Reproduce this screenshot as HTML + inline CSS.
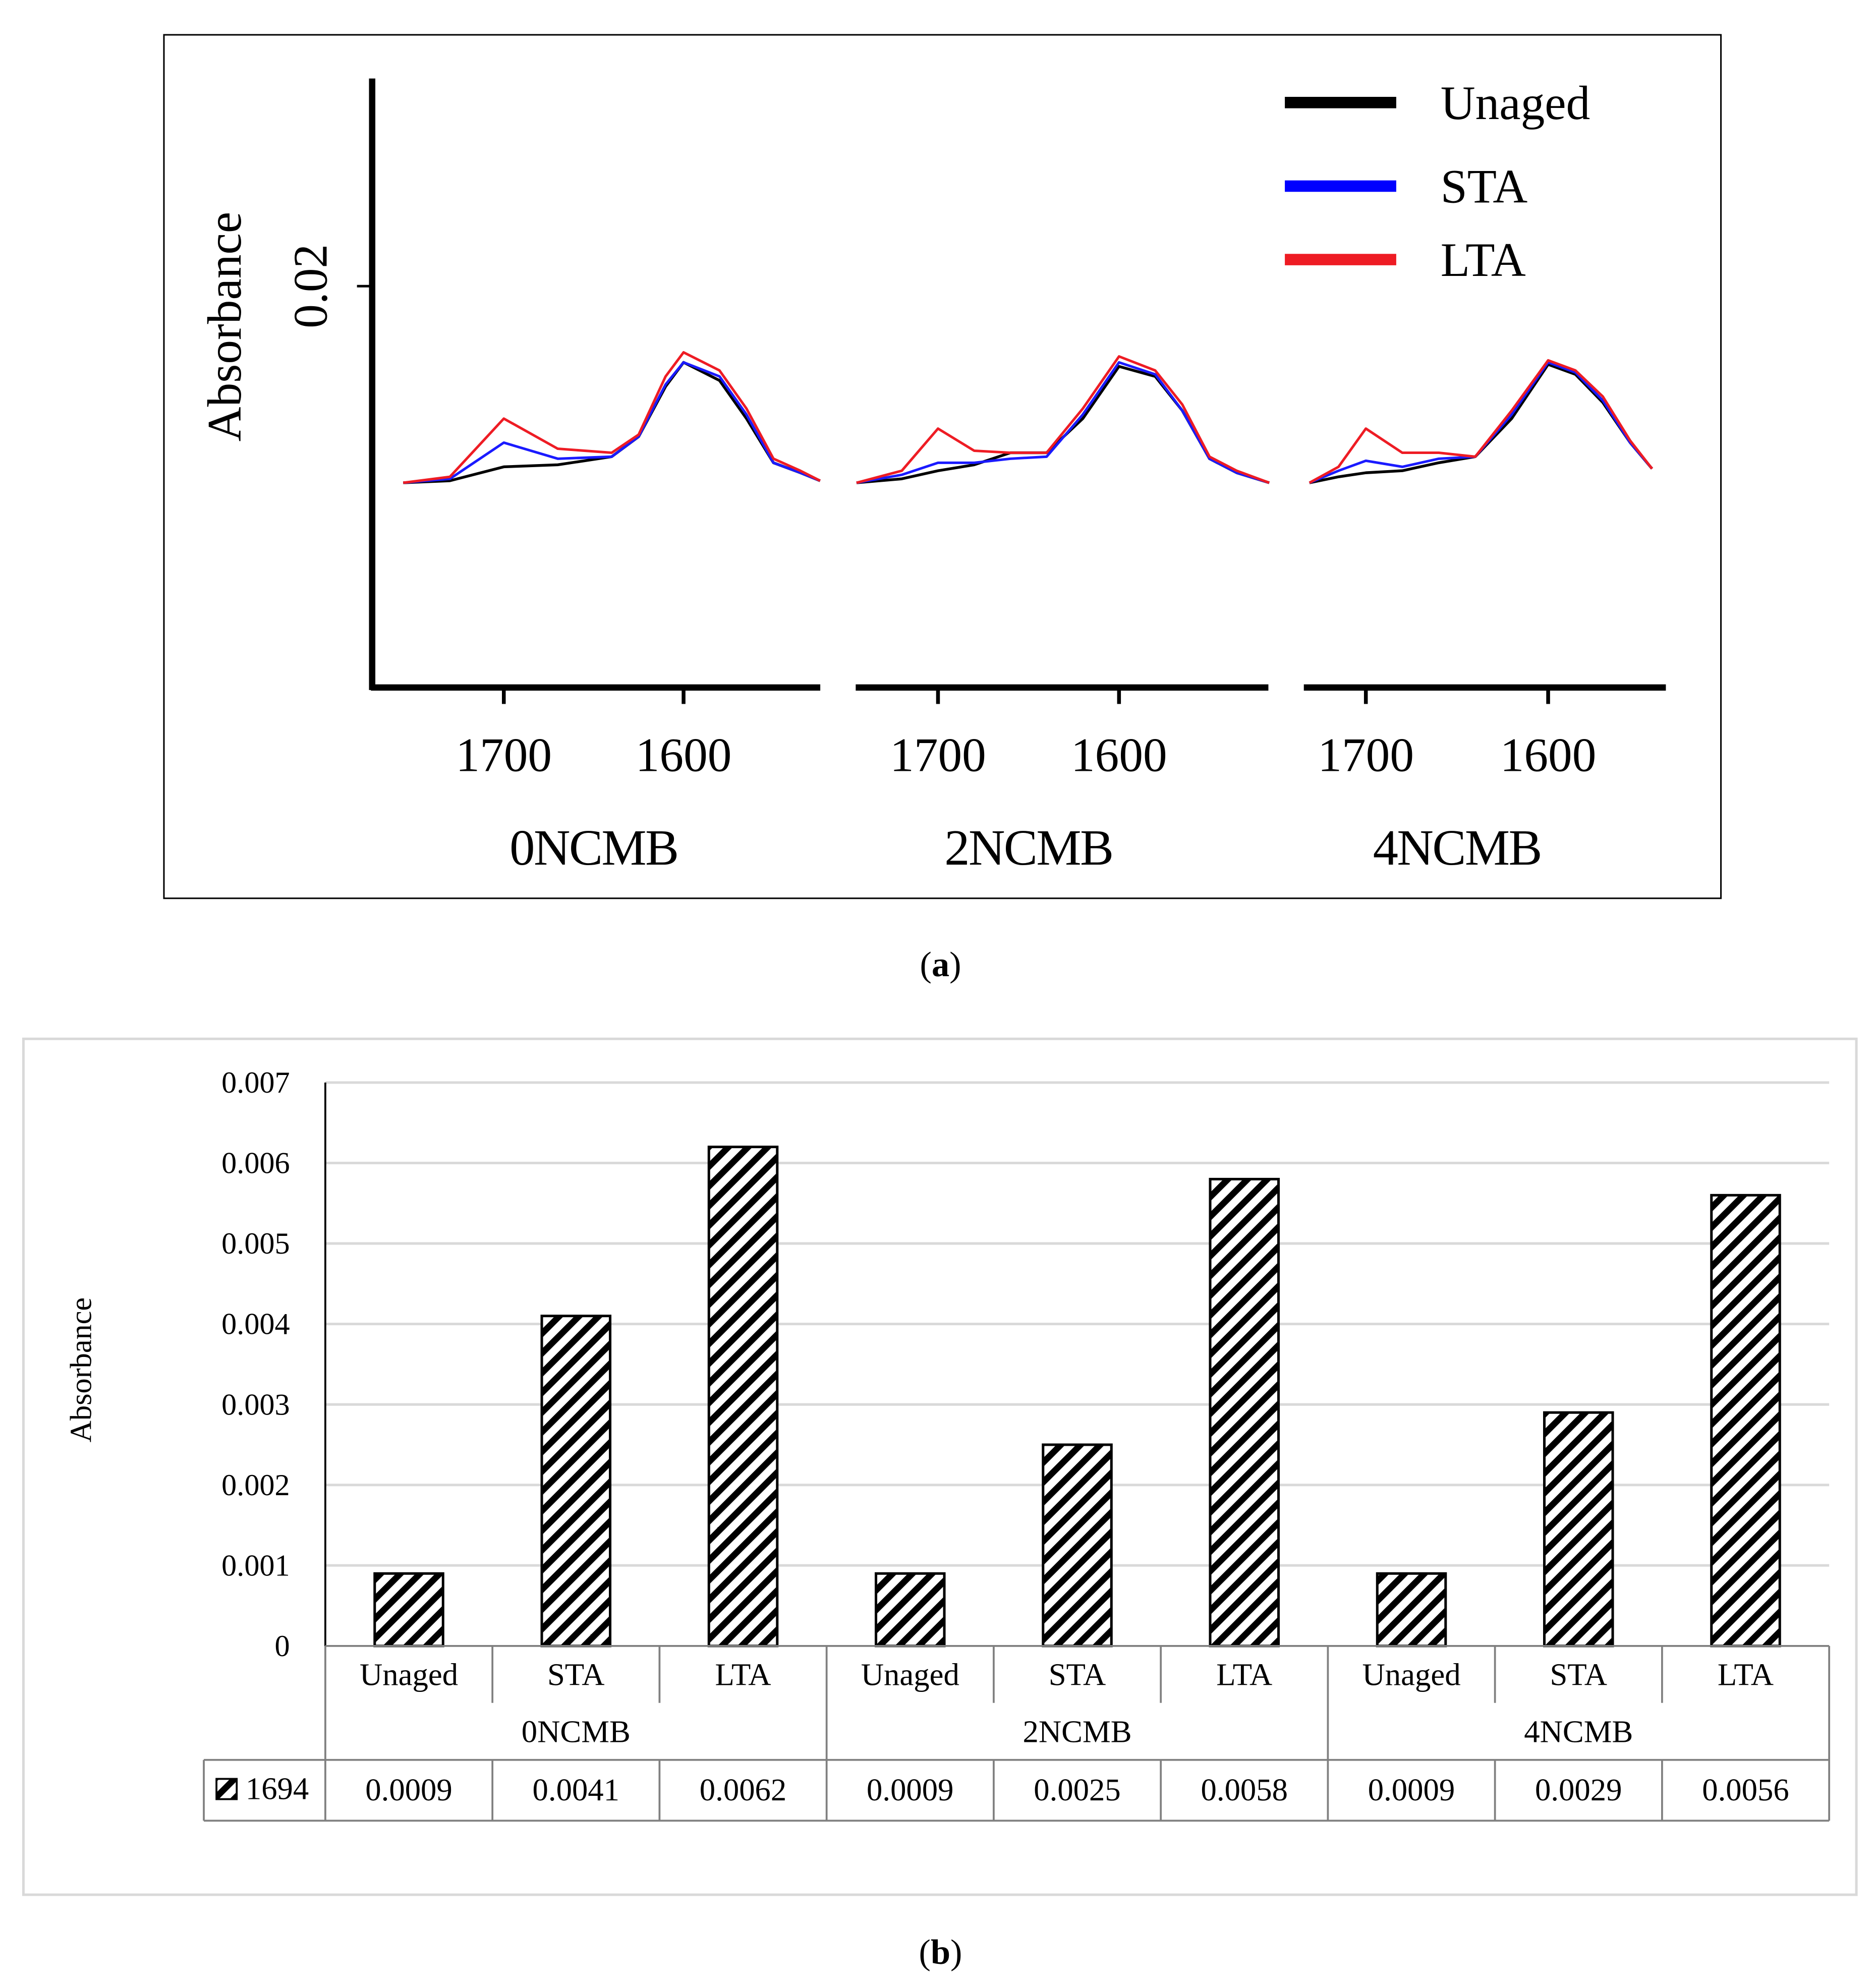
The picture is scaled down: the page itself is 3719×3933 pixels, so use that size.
<!DOCTYPE html>
<html><head><meta charset="utf-8"><style>html,body{margin:0;padding:0;background:#fff}svg{display:block}text{font-family:"Liberation Serif",serif}</style></head>
<body>
<svg id="fig" width="3719" height="3933" viewBox="0 0 1482 1567" preserveAspectRatio="none" xmlns="http://www.w3.org/2000/svg">
<defs><pattern id="hatch" patternUnits="userSpaceOnUse" width="11" height="11" patternTransform="rotate(45)"><rect width="11" height="11" fill="#fff"/><rect width="5" height="11" fill="#000"/></pattern></defs>
<rect x="0" y="0" width="1482" height="1567" fill="#fff"/>
<rect x="129.5" y="27.5" width="1230" height="682" fill="none" stroke="#000" stroke-width="1.2"/>
<g id="pa"></g>
<text x="743" y="771" font-size="28" text-anchor="middle">(<tspan font-weight="bold">a</tspan>)</text>
<rect x="18.5" y="820.5" width="1448" height="676" fill="none" stroke="#d9d9d9" stroke-width="2"/>
<g id="pb"></g>
<text x="743" y="1551" font-size="28" text-anchor="middle">(<tspan font-weight="bold">b</tspan>)</text>
</svg>
<script>
// ---------- Panel (a) data ----------
const panelNames = ["0NCMB","2NCMB","4NCMB"];
const seriesNames = ["Unaged","STA","LTA"];
const wn0 = [1756,1730,1700,1670,1640,1625,1610,1600,1580,1565,1550,1535,1524];
const unaged0 = [0.0102,0.0103,0.0110,0.0111,0.0115,0.0125,0.0150,0.0162,0.0153,0.0134,0.0112,0.0107,0.0103];
const sta0 = [0.0102,0.0104,0.0122,0.0114,0.0115,0.0125,0.0151,0.0162,0.0155,0.0136,0.0112,0.0107,0.0103];
const lta0 = [0.0102,0.0105,0.0134,0.0119,0.0117,0.0126,0.0155,0.0167,0.0158,0.0139,0.0114,0.0108,0.0103];
const wn1 = [1745,1720,1700,1680,1660,1640,1620,1600,1580,1565,1550,1535,1517];
const unaged1 = [0.0102,0.0104,0.0108,0.0111,0.0117,0.0117,0.0134,0.0160,0.0155,0.0138,0.0114,0.0107,0.0102];
const sta1 = [0.0102,0.0106,0.0112,0.0112,0.0114,0.0115,0.0136,0.0162,0.0156,0.0138,0.0114,0.0107,0.0102];
const lta1 = [0.0102,0.0108,0.0129,0.0118,0.0117,0.0117,0.0139,0.0165,0.0158,0.0141,0.0115,0.0108,0.0102];
const wn2 = [1731,1715,1700,1680,1660,1640,1620,1600,1585,1570,1555,1543];
const unaged2 = [0.0102,0.0105,0.0107,0.0108,0.0112,0.0115,0.0134,0.0161,0.0156,0.0142,0.0122,0.0109];
const sta2 = [0.0102,0.0108,0.0113,0.0110,0.0114,0.0115,0.0136,0.0162,0.0157,0.0143,0.0122,0.0109];
const lta2 = [0.0102,0.0110,0.0129,0.0117,0.0117,0.0115,0.0138,0.0163,0.0158,0.0145,0.0123,0.0109];
const yTickVal = [0.02];
const xTickVals = [1700,1600];

// ---------- Panel (b) data ----------
const barLabels = ["Unaged","STA","LTA","Unaged","STA","LTA","Unaged","STA","LTA"];
const groupLabels = ["0NCMB","2NCMB","4NCMB"];
const barValues = [0.0009,0.0041,0.0062,0.0009,0.0025,0.0058,0.0009,0.0029,0.0056];
const barTexts = ["0.0009","0.0041","0.0062","0.0009","0.0025","0.0058","0.0009","0.0029","0.0056"];
const bTicks = [0,0.001,0.002,0.003,0.004,0.005,0.006,0.007];
const bTickLabels = ["0","0.001","0.002","0.003","0.004","0.005","0.006","0.007"];

const NS="http://www.w3.org/2000/svg";
function mk(tag,attrs,parent,txt){const e=document.createElementNS(NS,tag);for(const k in attrs)e.setAttribute(k,attrs[k]);if(txt!==undefined)e.textContent=txt;parent.appendChild(e);return e;}

// Panel a
const pa=document.getElementById('pa');
const ya=v=>543-(v/0.02)*317;
const panels=[{a:398,b:540,x0:293,x1:648},{a:741,b:884,x0:676,x1:1002},{a:1079,b:1223,x0:1030,x1:1316}];
const wns=[wn0,wn1,wn2];
const sers=[[unaged0,sta0,lta0],[unaged1,sta1,lta1],[unaged2,sta2,lta2]];
const colors=["#000","#1a1aff","#ee1c24"];
const widths=[2.2,2,2];
let el=mk('line',{x1:294,y1:62,x2:294,y2:545,stroke:'#000','stroke-width':5},pa);


yTickVal.forEach(v=>{
  let t=mk('line',{x1:282,y1:ya(v),x2:294,y2:ya(v),stroke:'#000','stroke-width':2},pa);
  
  
  let l=mk('text',{x:258,y:ya(v),'font-size':38,'text-anchor':'middle',transform:`rotate(-90 258 ${ya(v)})`},pa,String(v));
  
  
});
let yt=mk('text',{x:190,y:258,'font-size':38,'text-anchor':'middle',transform:'rotate(-90 190 258)'},pa,'Absorbance');


panels.forEach((p,i)=>{
  const xs=w=>p.a+(1700-w)*(p.b-p.a)/100;
  let ax=mk('line',{x1:p.x0,y1:543,x2:p.x1,y2:543,stroke:'#000','stroke-width':5},pa);
  
  
  xTickVals.forEach(w=>{
    let t=mk('line',{x1:xs(w),y1:543,x2:xs(w),y2:556,stroke:'#000','stroke-width':3},pa);
    
    
    let l=mk('text',{x:xs(w),y:609,'font-size':38,'text-anchor':'middle'},pa,String(w));
    
    
  });
  let g=mk('text',{x:(xs(1700)+xs(1600))/2,y:683,'font-size':40,'text-anchor':'middle','letter-spacing':-1},pa,panelNames[i]);
  
  
  sers[i].forEach((s,j)=>{
    const d=s.map((v,k)=>(k?'L':'M')+xs(wns[i][k]).toFixed(1)+','+ya(v).toFixed(1)).join(' ');
    let pl=mk('path',{d:d,fill:'none',stroke:colors[j],'stroke-width':widths[j],'stroke-linejoin':'round'},pa);
    
    
  });
});
seriesNames.forEach((n,j)=>{
  const y=[81,147,205][j];
  let ll=mk('line',{x1:1015,y1:y,x2:1103,y2:y,stroke:colors[j]==='#1a1aff'?'#0000ff':colors[j],'stroke-width':9},pa);
  
  
  let lt=mk('text',{x:1138,y:y+13,'font-size':38},pa,n);
  
  
});

// Panel b
const pb=document.getElementById('pb');
const L=257,R=1445,Y0=1300,Y7=855;
const yb=v=>Y0-(v/0.007)*(Y0-Y7);
const cw=(R-L)/barValues.length;
bTicks.forEach((v,i)=>{
  if(i>0){let gl=mk('line',{x1:L,y1:yb(v),x2:R,y2:yb(v),stroke:'#d9d9d9','stroke-width':2},pb);
  
  }
  let tl=mk('text',{x:229,y:yb(v)+8,'font-size':24,'text-anchor':'end'},pb,bTickLabels[i]);
  
  
});
let bya=mk('line',{x1:L,y1:855,x2:L,y2:Y0,stroke:'#000','stroke-width':1.5},pb);


let byt=mk('text',{x:72,y:1082,'font-size':24,'text-anchor':'middle',transform:'rotate(-90 72 1082)'},pb,'Absorbance');


barValues.forEach((v,i)=>{
  const cx=L+cw*(i+0.5);
  let b=mk('rect',{x:cx-27,y:yb(v),width:54,height:Y0-yb(v),fill:'url(#hatch)',stroke:'#000','stroke-width':2},pb);
  
  
  let c=mk('text',{x:cx,y:1331,'font-size':25,'text-anchor':'middle'},pb,barLabels[i]);
  
  
  let t=mk('text',{x:cx,y:1422,'font-size':25,'text-anchor':'middle'},pb,barTexts[i]);
  
  
});
const tl=(x1,y1,x2,y2,n)=>{let e=mk('line',{x1,y1,x2,y2,stroke:'#808080','stroke-width':1.5},pb);};
tl(L,Y0,R,Y0,'x-axis');
tl(161,1390,R,1390,'table-line');
tl(161,1438,R,1438,'table-line');
tl(161,1390,161,1438,'table-line');
tl(L,Y0,L,1438,'table-line');
for(let i=1;i<=barValues.length;i++){
  const x=L+cw*i;
  if(i%3===0) tl(x,Y0,x,1438,'table-line'); else {tl(x,Y0,x,1345,'table-line');tl(x,1390,x,1438,'table-line');}
}
groupLabels.forEach((g,i)=>{
  let t=mk('text',{x:L+cw*(3*i+1.5),y:1376,'font-size':25,'text-anchor':'middle'},pb,g);
  
  
});
let lk=mk('rect',{x:171,y:1405,width:16,height:16,fill:'url(#hatch)',stroke:'#000','stroke-width':1.5},pb);


let lkt=mk('text',{x:194,y:1421,'font-size':25},pb,'1694');


</script>
</body></html>
